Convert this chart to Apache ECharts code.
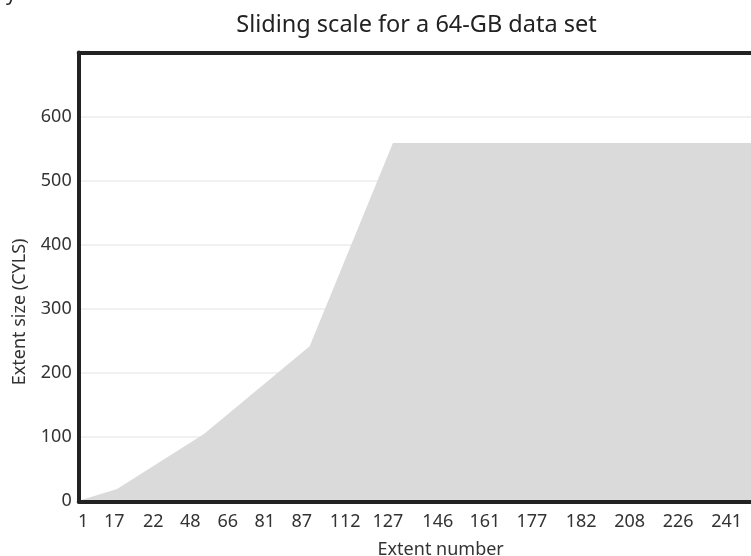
<!DOCTYPE html>
<html>
<head>
<meta charset="utf-8">
<script src="https://cdn.jsdelivr.net/npm/echarts@6/dist/echarts.min.js"></script>
<style>html,body{margin:0;padding:0;background:#fff;}#c{width:751px;height:556px;}</style>
</head>
<body>
<div id="c"></div>
<script>
// Tick labels on the x axis (extent numbers) and where each sits along the axis (0-100 across the plot)
const extentLabels = ['1','17','22','48','66','81','87','112','127','146','161','177','182','208','226','241'];
const tickAt = [0.6, 4.9, 10.3, 15.4, 20.6, 25.7, 30.8, 36.8, 42.7, 49.6, 56.1, 62.6, 69.4, 76.1, 82.8, 89.5];
// Outline of the area: positions along the axis and extent sizes (cylinders)
const areaX = [0, 5.3, 17.3, 31.9, 43.4, 100];
const areaY = [1, 19, 105, 242, 559, 559];
// Y axis range
const yMin = 0, yMax = 700, yStep = 100;

const FONT = 'Noto Sans';
const chart = echarts.init(document.getElementById('c'), null, {renderer: 'canvas'});
chart.setOption({
  animation: false,
  backgroundColor: '#ffffff',
  graphic: [
    {type: 'text', style: {text: 'Sliding scale for a 64-GB data set', x: 416.5, y: 25, textAlign: 'center', textVerticalAlign: 'middle', fill: '#222', font: '23.5px "Noto Sans"'}},
    {type: 'text', style: {text: 'y models.', x: 6, y: 4, textAlign: 'left', textVerticalAlign: 'bottom', fill: '#222', font: '20px "Noto Sans"'}}
  ],
  grid: {left: 78.7, top: 52.5, width: 724, bottom: 54.7, containLabel: false, outerBoundsMode: 'none'},
  xAxis: [{
    type: 'value', position: 'bottom', min: 0, max: 100, z: 5,
    name: 'Extent number', nameLocation: 'middle', nameGap: 40,
    nameTextStyle: {fontFamily: FONT, fontSize: 18, color: '#333'},
    axisLine: {show: true, lineStyle: {color: '#222', width: 4}},
    axisTick: {show: false},
    splitLine: {show: false},
    axisLabel: {
      customValues: tickAt,
      formatter: function (v) { const i = tickAt.indexOf(v); return i >= 0 ? extentLabels[i] : ''; },
      fontFamily: FONT, fontSize: 18, color: '#333', margin: 12
    }
  }, {
    type: 'value', position: 'top', min: 0, max: 100, z: 5,
    axisLine: {show: true, lineStyle: {color: '#222', width: 4}},
    axisTick: {show: false}, axisLabel: {show: false}, splitLine: {show: false}
  }],
  yAxis: {
    type: 'value', min: yMin, max: yMax, interval: yStep,
    name: 'Extent size (CYLS)', nameLocation: 'middle', nameGap: 50,
    nameTextStyle: {fontFamily: FONT, fontSize: 18, color: '#333', padding: [0, 70, 0, 0]},
    axisLine: {show: true, lineStyle: {color: '#222', width: 4}},
    axisTick: {show: false},
    splitLine: {show: true, lineStyle: {color: '#f1f1f1', width: 2}},
    axisLabel: {
      fontFamily: FONT, fontSize: 18, color: '#333', margin: 7,
      formatter: function (v) { return v === yMax ? '' : String(v); }
    }
  },
  series: [{
    type: 'line', xAxisIndex: 0,
    data: areaX.map((x, i) => [x, areaY[i]]),
    showSymbol: false, symbol: 'none',
    lineStyle: {width: 0, color: '#dadada'},
    areaStyle: {color: '#dadada', opacity: 1},
    itemStyle: {color: '#dadada'},
    z: 2
  }]
});
</script>
</body>
</html>
